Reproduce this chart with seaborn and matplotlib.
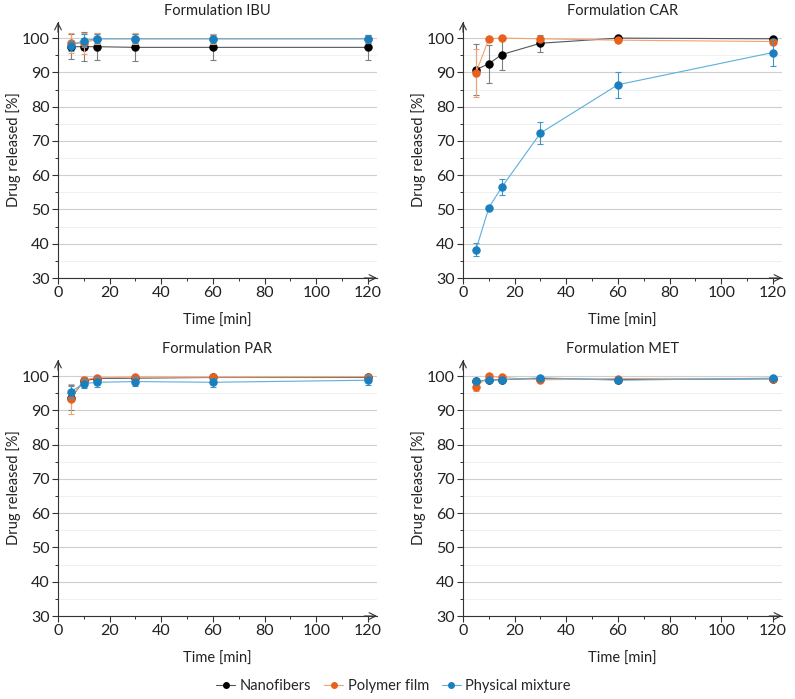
import numpy as np
import pandas as pd
import matplotlib
matplotlib.use("Agg")
import matplotlib.pyplot as plt
import seaborn as sns
from matplotlib.lines import Line2D
from matplotlib.ticker import MultipleLocator

time = [5, 10, 15, 30, 60, 120]
series = ["Nanofibers", "Polymer film", "Physical mixture"]
formulations = ["IBU", "CAR", "PAR", "MET"]

ibu_nano = [97.5, 97.5, 97.5, 97.3, 97.3, 97.3]
ibu_nano_err = [3.6, 4.2, 3.9, 3.9, 3.8, 3.7]
ibu_film = [98.6, 98.5, 99.8, 99.8, 99.8, 99.8]
ibu_film_err = [2.8, 3.0, 1.6, 1.6, 1.4, 1.2]
ibu_phys = [97.8, 99.3, 99.8, 99.8, 99.8, 99.8]
ibu_phys_err = [1.5, 1.8, 1.3, 1.3, 1.2, 1.1]

car_nano = [90.8, 92.5, 95.2, 98.5, 100.0, 99.8]
car_nano_err = [7.5, 5.5, 4.4, 2.5, 0.4, 0.5]
car_film = [89.8, 99.8, 100.0, 99.8, 99.4, 99.0]
car_film_err = [7.0, 0.5, 0.5, 0.6, 0.5, 0.5]
car_phys = [38.2, 50.5, 56.5, 72.3, 86.4, 95.8]
car_phys_err = [1.9, 0.5, 2.3, 3.2, 3.8, 3.9]

par_nano = [93.6, 98.6, 99.3, 99.4, 99.6, 99.6]
par_nano_err = [3.5, 1.0, 0.8, 0.7, 0.5, 0.6]
par_film = [93.4, 99.0, 99.5, 99.7, 99.7, 99.8]
par_film_err = [4.4, 0.8, 0.6, 0.5, 0.4, 0.4]
par_phys = [95.5, 97.8, 98.2, 98.4, 98.2, 98.8]
par_phys_err = [2.0, 1.3, 1.5, 1.3, 1.3, 1.4]

met_nano = [98.5, 98.8, 99.0, 99.3, 99.0, 99.2]
met_nano_err = [0.6, 0.5, 0.5, 0.5, 0.5, 0.5]
met_film = [96.8, 100.0, 99.6, 98.9, 99.3, 99.3]
met_film_err = [1.0, 0.5, 0.4, 0.5, 0.4, 0.4]
met_phys = [98.6, 98.8, 98.9, 99.5, 98.8, 99.4]
met_phys_err = [0.5, 0.4, 0.4, 0.4, 0.4, 0.4]

data = {
    "IBU": [(ibu_nano, ibu_nano_err), (ibu_film, ibu_film_err), (ibu_phys, ibu_phys_err)],
    "CAR": [(car_nano, car_nano_err), (car_film, car_film_err), (car_phys, car_phys_err)],
    "PAR": [(par_nano, par_nano_err), (par_film, par_film_err), (par_phys, par_phys_err)],
    "MET": [(met_nano, met_nano_err), (met_film, met_film_err), (met_phys, met_phys_err)],
}

sns.set_theme(style="ticks")
plt.rcParams["font.family"] = ["Lato", "DejaVu Sans"]

marker_colors = ["#000000", "#E8601C", "#1A7FBF"]
line_colors = ["#555555", "#F2A272", "#5AAFDD"]
err_colors = ["#7F7F7F", "#F2A272", "#3E95C9"]

fig = plt.figure(figsize=(7.95, 6.99), dpi=100)
W, H = 795, 699
boxes = {
    "IBU": (58, 22, 377, 278),
    "CAR": (463, 22, 782, 278),
    "PAR": (58, 360, 377, 616),
    "MET": (463, 360, 782, 616),
}

for f in formulations:
    x0, y0, x1, y1 = boxes[f]
    ax = fig.add_axes([x0 / W, 1 - y1 / H, (x1 - x0) / W, (y1 - y0) / H])
    rows = []
    for s, (vals, errs) in zip(series, data[f]):
        for t, v, e in zip(time, vals, errs):
            rows.append({"Time": t, "Release": v, "Err": e, "Series": s})
    df = pd.DataFrame(rows)
    for i, s in enumerate(series):
        d = df[df["Series"] == s]
        ax.errorbar(d["Time"], d["Release"], yerr=d["Err"], fmt="none",
                    ecolor=err_colors[i], elinewidth=0.8, capsize=2.5,
                    capthick=0.8, zorder=2 + i)
        sns.lineplot(data=d, x="Time", y="Release", ax=ax, color=line_colors[i],
                     linewidth=0.8, marker="o", markersize=5.3,
                     markerfacecolor=marker_colors[i], markeredgecolor=marker_colors[i],
                     legend=False, zorder=3 + i)
    ax.set_xlim(0, 123.5)
    ax.set_ylim(30, 104.7)
    ax.xaxis.set_major_locator(MultipleLocator(20))
    ax.xaxis.set_minor_locator(MultipleLocator(10))
    ax.yaxis.set_major_locator(MultipleLocator(10))
    ax.yaxis.set_minor_locator(MultipleLocator(5))
    ax.grid(axis="y", which="major", color="#CFCFCF", linewidth=0.8)
    ax.grid(axis="y", which="minor", color="#EDEDED", linewidth=0.6)
    ax.set_axisbelow(True)
    for sp in ["top", "right"]:
        ax.spines[sp].set_visible(False)
    for sp in ["left", "bottom"]:
        ax.spines[sp].set_color("#333333")
        ax.spines[sp].set_linewidth(0.8)
    ax.tick_params(axis="both", which="major", length=4, width=0.8, color="#333333",
                   labelsize=11.5, labelcolor="#222222", pad=2)
    ax.tick_params(axis="both", which="minor", length=2.5, width=0.7, color="#333333")
    ax.annotate("", xy=(1.0, 0), xytext=(0.96, 0), xycoords="axes fraction",
                arrowprops=dict(arrowstyle="->", color="#333333", lw=0.8,
                                shrinkA=0, shrinkB=0))
    ax.annotate("", xy=(0, 1.0), xytext=(0, 0.96), xycoords="axes fraction",
                arrowprops=dict(arrowstyle="->", color="#333333", lw=0.8,
                                shrinkA=0, shrinkB=0))
    ax.set_xlabel("Time [min]", fontsize=10.5, color="#222222")
    ax.set_ylabel("Drug released [%]", fontsize=10.5, color="#222222")
    ax.yaxis.set_label_coords(-0.116, 0.5)
    ax.xaxis.set_label_coords(0.5, -0.14)
    ax.set_title(f"Formulation {f}", fontsize=10.5, color="#222222", pad=5)

handles = [Line2D([0], [0], color=line_colors[i], lw=0.8, marker="o", markersize=4,
                  markerfacecolor=marker_colors[i], markeredgecolor=marker_colors[i])
           for i in range(3)]
fig.legend(handles, series, loc="center", bbox_to_anchor=(0.495, 0.018), ncol=3,
           frameon=False, fontsize=10.5, handlelength=1.3, handletextpad=0.3,
           columnspacing=0.9)

fig.savefig("out.png", dpi=100)
